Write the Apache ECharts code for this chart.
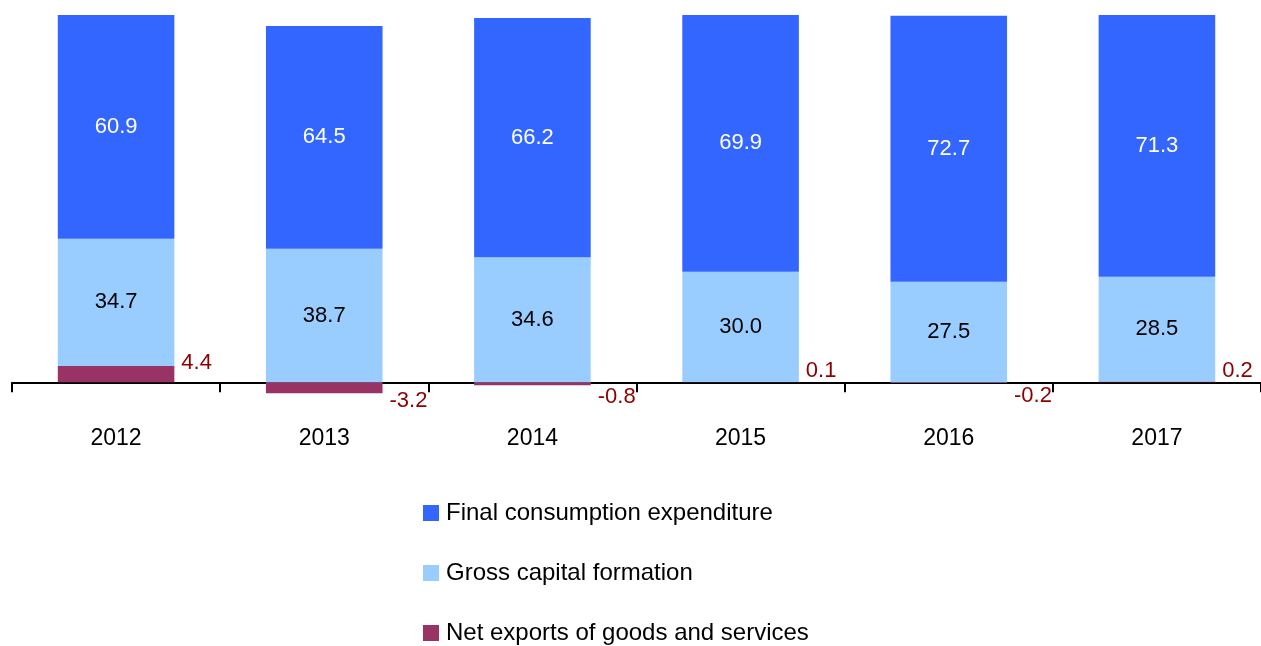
<!DOCTYPE html>
<html>
<head>
<meta charset="utf-8">
<script src="https://cdn.jsdelivr.net/npm/echarts@6/dist/echarts.min.js"></script>
<style>
  html, body { margin: 0; padding: 0; background: #fff; }
  #chart { width: 1261px; height: 646px; }
</style>
</head>
<body>
<div id="chart"></div>
<script>
// 年份与三个构成部分（标签显示原始数值）
var years = ['2012', '2013', '2014', '2015', '2016', '2017']
var finalConsumption = [60.9, 64.5, 66.2, 69.9, 72.7, 71.3]
var grossCapital = [34.7, 38.7, 34.6, 30.0, 27.5, 28.5]
var netExports = [4.4, -3.2, -0.8, 0.1, -0.2, 0.2]

// 100% 堆积：按绝对值之和换算成份额
function share (arr) {
  return arr.map(function (v, i) {
    var total = Math.abs(finalConsumption[i]) + Math.abs(grossCapital[i]) + Math.abs(netExports[i])
    return v / total * 100
  })
}

var font = 'Liberation Sans, Arial, sans-serif'
var chart = echarts.init(document.getElementById('chart'))

chart.setOption({
  animation: false,
  grid: {
    left: 12,
    right: 0,
    top: 15,
    bottom: 227
  },
  legend: {
    orient: 'vertical',
    left: 418,
    top: 496,
    height: 200,
    itemWidth: 16,
    itemHeight: 16,
    itemGap: 36,
    icon: 'rect',
    textStyle: { fontFamily: font, fontSize: 24, color: '#000', padding: [0, 0, 0, 2] },
    data: ['Final consumption expenditure', 'Gross capital formation', 'Net exports of goods and services']
  },
  xAxis: {
    type: 'category',
    data: years,
    axisLine: { onZero: true, lineStyle: { color: '#000', width: 2 } },
    axisTick: { show: true, length: 10, lineStyle: { color: '#000', width: 2 } },
    axisLabel: { margin: 8, fontFamily: font, fontSize: 23, color: '#000' },
    splitLine: { show: false }
  },
  yAxis: {
    type: 'value',
    min: -10,
    max: 100,
    show: false,
    splitLine: { show: false }
  },
  series: [
    {
      name: 'Net exports of goods and services',
      type: 'bar',
      stack: 'gdp',
      barWidth: '56%',
      itemStyle: { color: '#993366' },
      data: share(netExports).map(function (v) {
        return { value: v, label: { offset: v >= 0 ? [0, -11] : [0, 13] } }
      }),
      label: {
        show: true,
        position: 'right',
        distance: 7,
        fontFamily: font,
        fontSize: 22,
        color: '#8B0000',
        formatter: function (p) { return netExports[p.dataIndex].toFixed(1) }
      }
    },
    {
      name: 'Gross capital formation',
      type: 'bar',
      stack: 'gdp',
      itemStyle: { color: '#99CCFF' },
      data: share(grossCapital),
      label: {
        show: true,
        position: 'inside',
        fontFamily: font,
        fontSize: 22,
        color: '#000',
        formatter: function (p) { return grossCapital[p.dataIndex].toFixed(1) }
      }
    },
    {
      name: 'Final consumption expenditure',
      type: 'bar',
      stack: 'gdp',
      itemStyle: { color: '#3366FF' },
      data: share(finalConsumption),
      label: {
        show: true,
        position: 'inside',
        fontFamily: font,
        fontSize: 22,
        color: '#fff',
        formatter: function (p) { return finalConsumption[p.dataIndex].toFixed(1) }
      }
    }
  ]
})
</script>
</body>
</html>
